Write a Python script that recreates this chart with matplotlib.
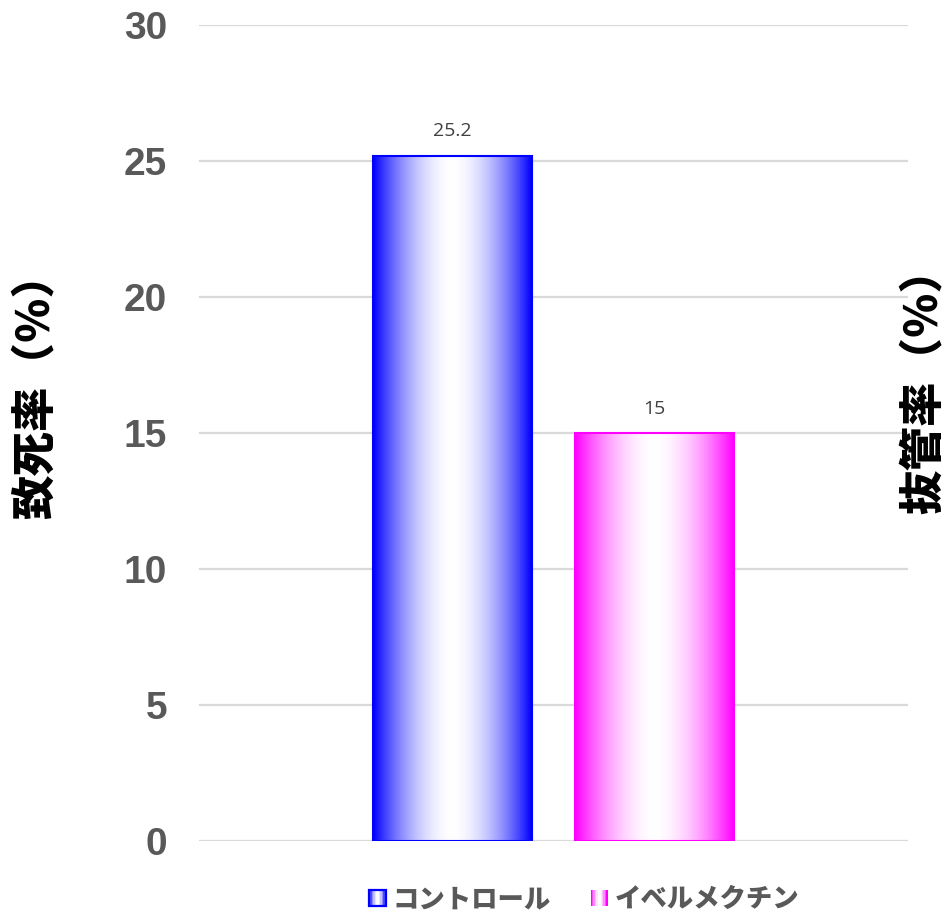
import numpy as np
from matplotlib import pyplot as plt
from matplotlib import rcParams
from matplotlib.patches import Rectangle
from matplotlib.legend_handler import HandlerBase

rcParams["font.family"] = ["Liberation Sans", "Noto Sans CJK JP", "DejaVu Sans"]

gray = "#595959"
gridgray = "#d9d9d9"

series_names = ["コントロール", "イベルメクチン"]
series_values = [25.2, 15]
series_colors = ["#0000ff", "#ff00ff"]
y_ticks = [0, 5, 10, 15, 20, 25, 30]
left_label = "致死率（％）"
right_label = "抜管率（％）"

offsets = [-0.1425, 0.1425]
bar_width = 0.224


def gradient_row(color, n=200):
    # edge colour at both sides, fading to white in the middle
    rgb = np.array(plt.matplotlib.colors.to_rgb(color))
    t = np.abs(np.linspace(-1, 1, n))
    frac = (t ** 1.8)[:, None]
    row = (1 - frac) * np.ones(3) + frac * rgb
    return row[None, :, :]


class GradientHandler(HandlerBase):
    def __init__(self, color, edge):
        super().__init__()
        self.color = color
        self.edge = edge

    def create_artists(self, legend, orig_handle, xdescent, ydescent,
                       width, height, fontsize, trans):
        row = gradient_row(self.color, 12)[0]
        artists = []
        n = len(row)
        for i, c in enumerate(row):
            r = Rectangle((-xdescent + width * i / n, -ydescent), width / n + 0.3, height,
                          facecolor=c, edgecolor="none", transform=trans)
            artists.append(r)
        if self.edge:
            artists.append(Rectangle((-xdescent, -ydescent), width, height, facecolor="none",
                                     edgecolor=self.color, lw=1.6, transform=trans))
        return artists


fig = plt.figure(figsize=(9.47, 9.13), dpi=100)
ax = fig.add_axes([199 / 947, 1 - 841 / 913, 709 / 947, 816 / 913])

ax.set_xlim(-0.5, 0.5)
ax.set_ylim(0, 30)
ax.set_yticks(y_ticks)
ax.set_xticks([])
for s in ax.spines.values():
    s.set_visible(False)
ax.tick_params(axis="y", length=0, pad=23, labelsize=28, labelcolor=gray)
for lab in ax.get_yticklabels():
    lab.set_fontweight("bold")
ax.grid(axis="y", color=gridgray, lw=1.6)
ax.set_axisbelow(True)

handles = []
for off, val, color, name in zip(offsets, series_values, series_colors, series_names):
    bars = ax.bar(off, val, width=bar_width, facecolor="none", edgecolor=color,
                  lw=1.5, zorder=3, label=name)
    rect = bars[0]
    img = ax.imshow(gradient_row(color), extent=(off - bar_width / 2, off + bar_width / 2, 0, val),
                    aspect="auto", interpolation="bilinear", zorder=2)
    img.set_clip_path(rect)
    ax.bar_label(bars, labels=[f"{val:g}"], padding=11, fontsize=14,
                 color="#404040", family=["Open Sans", "DejaVu Sans"])
    handles.append(rect)

ax.set_xlim(-0.5, 0.5)
ax.set_ylim(0, 30)

leg = fig.legend(handles, series_names, loc="center", bbox_to_anchor=(584 / 947, 1 - 899 / 913),
                 ncol=2, frameon=False, handlelength=0.65, handleheight=0.6,
                 handletextpad=0.25, columnspacing=1.5,
                 handler_map={handles[0]: GradientHandler(series_colors[0], True),
                              handles[1]: GradientHandler(series_colors[1], False)},
                 prop={"family": ["Noto Sans CJK JP"], "weight": "black", "size": 19})
for t in leg.get_texts():
    t.set_color(gray)

fig.text(35 / 947, 1 - 385 / 913, left_label, rotation=90, ha="center", va="center",
         fontsize=32, fontweight="black", family=["Noto Sans CJK JP"], color="black")
fig.text(923 / 947, 1 - 380 / 913, right_label, rotation=90, ha="center", va="center",
         fontsize=32, fontweight="black", family=["Noto Sans CJK JP"], color="black")

fig.savefig("out.png", dpi=100, facecolor="white")
